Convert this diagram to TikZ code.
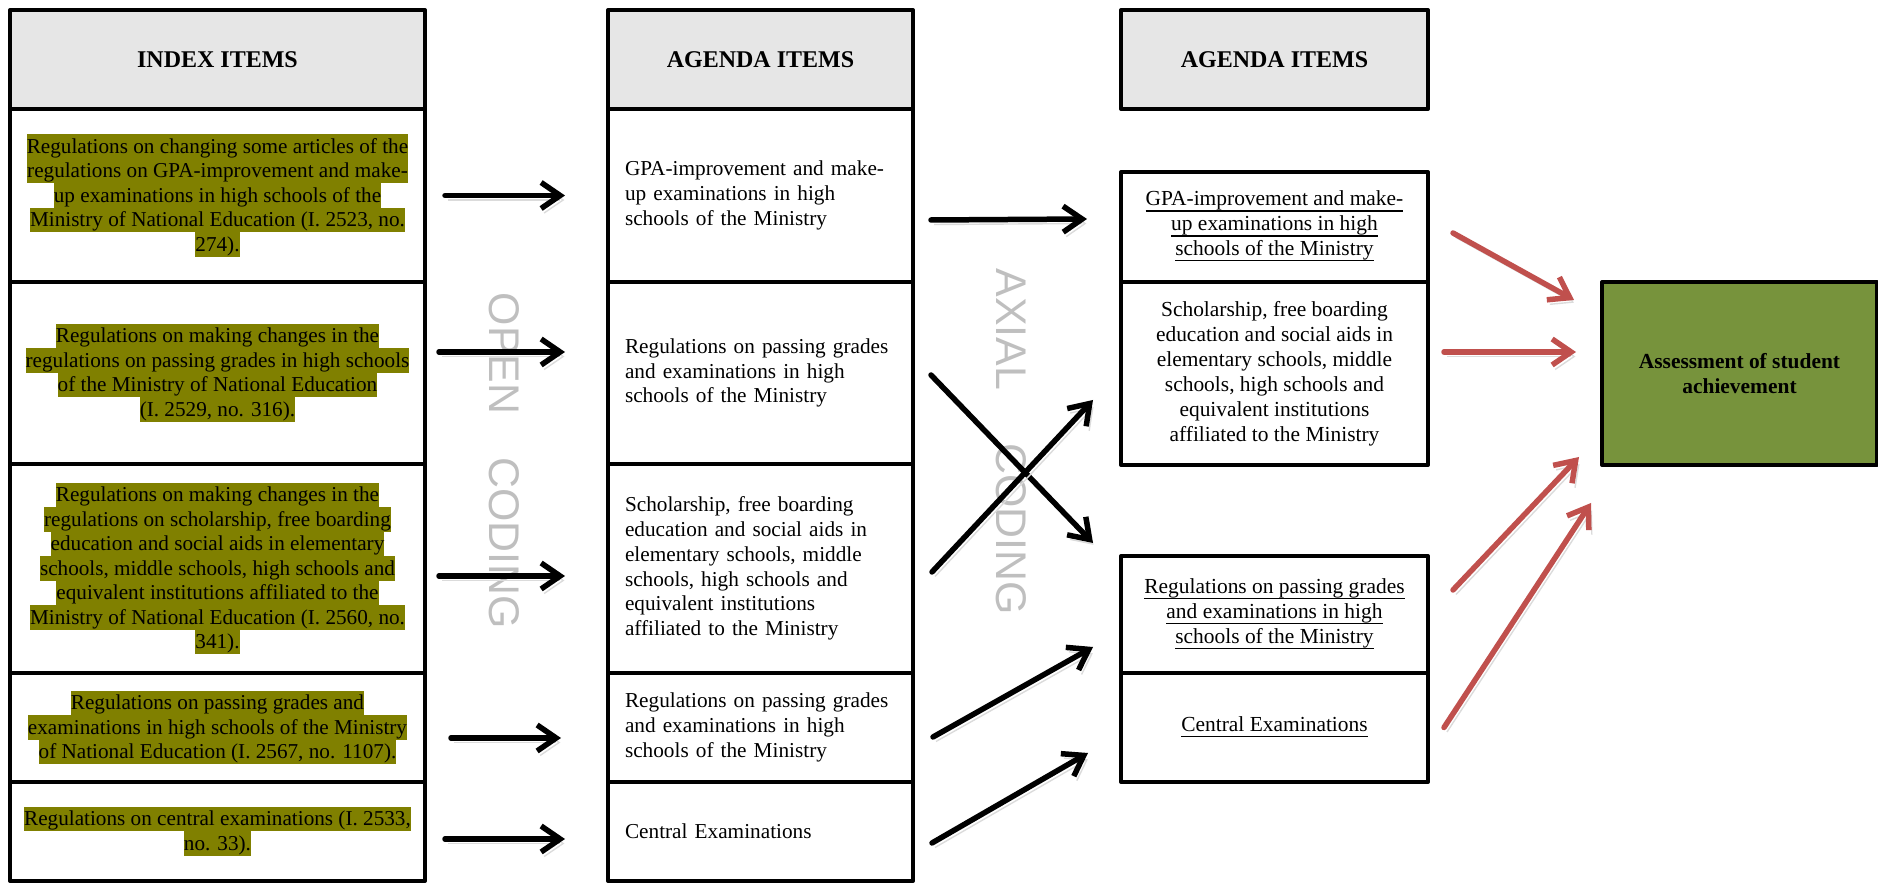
\documentclass[tikz,border=0pt]{standalone}
\usepackage{fontspec}
\setmainfont{Liberation Serif}
\newfontfamily\codingfont{Liberation Sans}
\usetikzlibrary{arrows.meta}
\definecolor{headgray}{HTML}{E6E6E6}
\definecolor{hlolive}{HTML}{808000}
\definecolor{arrowred}{HTML}{C0504D}
\definecolor{boxgreen}{HTML}{77933C}
\definecolor{codegray}{HTML}{BFBFBF}
\setlength{\fboxsep}{0pt}
\newcommand{\hlline}[1]{\colorbox{hlolive}{\rule[-1.6pt]{0pt}{6.97pt}#1}}
\newcommand{\ulline}[1]{\underline{\raisebox{0pt}[\height][0pt]{#1}}}

\begin{document}
\begin{tikzpicture}[line join=round, >={Straight Barb[length=1.9mm,width=2.6mm]}]
  \tikzstyle{cell}=[draw,line width=0.4mm,inner sep=0pt,outer sep=0pt,align=center]
  \tikzstyle{head}=[cell,fill=headgray,minimum height=0.99cm,font=\fontsize{6.83pt}{8pt}\selectfont\bfseries]
  \tikzstyle{index}=[cell,minimum width=4.15cm,font=\fontsize{6.03pt}{6.97pt}\selectfont]
  \tikzstyle{agenda}=[cell,text width=2.71cm,inner xsep=1.7mm,align=left,font=\fontsize{6.05pt}{7.05pt}\selectfont]
  \tikzstyle{coded}=[cell,minimum width=3.07cm,font=\fontsize{6.1pt}{7.1pt}\selectfont]
  \tikzstyle{coding}=[rotate=-90,anchor=west,inner sep=0pt,text=codegray,font=\codingfont\fontsize{12.2pt}{14pt}\selectfont]
  \tikzstyle{flow}=[->,line width=0.55mm,line cap=round,
    preaction={draw=black!14,->,transform canvas={xshift=0.3mm,yshift=-0.45mm}}]
  \tikzstyle{result}=[flow,draw=arrowred]
  \useasboundingbox (0,0) rectangle (18.78,8.83);

  % index items
  \node[head,minimum width=4.15cm] (I_0) at (2.175,8.235) {INDEX ITEMS};
  \node[index,minimum height=1.73cm] (I_1) at (2.175,6.875) {\hlline{Regulations on changing some articles of the}\\\hlline{regulations on GPA-improvement and make-}\\\hlline{up examinations in high schools of the}\\\hlline{Ministry of National Education (I. 2523, no.}\\\hlline{274).}};
  \node[index,minimum height=1.82cm] (I_2) at (2.175,5.10) {\hlline{Regulations on making changes in the}\\\hlline{regulations on passing grades in high schools}\\\hlline{of the Ministry of National Education}\\\hlline{(I. 2529, no. 316).}};
  \node[index,minimum height=2.09cm] (I_3) at (2.175,3.145) {\hlline{Regulations on making changes in the}\\\hlline{regulations on scholarship, free boarding}\\\hlline{education and social aids in elementary}\\\hlline{schools, middle schools, high schools and}\\\hlline{equivalent institutions affiliated to the}\\\hlline{Ministry of National Education (I. 2560, no.}\\\hlline{341).}};
  \node[index,minimum height=1.09cm] (I_4) at (2.175,1.555) {\hlline{Regulations on passing grades and}\\\hlline{examinations in high schools of the Ministry}\\\hlline{of National Education (I. 2567, no. 1107).}};
  \node[index,minimum height=0.99cm] (I_5) at (2.175,0.515) {\hlline{Regulations on central examinations (I. 2533,}\\\hlline{no. 33).}};

  % agenda items
  \node[head,minimum width=3.05cm] (A_0) at (7.605,8.235) {AGENDA ITEMS};
  \node[agenda,minimum height=1.73cm] (A_1) at (7.605,6.875) {GPA-improvement and make-\\up examinations in high\\schools of the Ministry};
  \node[agenda,minimum height=1.82cm] (A_2) at (7.605,5.10) {Regulations on passing grades\\and examinations in high\\schools of the Ministry};
  \node[agenda,minimum height=2.09cm] (A_3) at (7.605,3.145) {Scholarship, free boarding\\education and social aids in\\elementary schools, middle\\schools, high schools and\\equivalent institutions\\affiliated to the Ministry};
  \node[agenda,minimum height=1.09cm] (A_4) at (7.605,1.555) {Regulations on passing grades\\and examinations in high\\schools of the Ministry};
  \node[agenda,minimum height=0.99cm] (A_5) at (7.605,0.515) {Central Examinations};

  % coded agenda items
  \node[head,minimum width=3.07cm] (B_0) at (12.745,8.235) {AGENDA ITEMS};
  \node[coded,minimum height=1.10cm] (B_1) at (12.745,6.56) {\ulline{GPA-improvement and make-}\\\ulline{up examinations in high}\\\ulline{schools of the Ministry}};
  \node[coded,minimum height=1.83cm] (B_2) at (12.745,5.095) {Scholarship, free boarding\\education and social aids in\\elementary schools, middle\\schools, high schools and\\equivalent institutions\\affiliated to the Ministry};
  \node[coded,minimum height=1.17cm] (B_3) at (12.745,2.685) {\ulline{Regulations on passing grades}\\\ulline{and examinations in high}\\\ulline{schools of the Ministry}};
  \node[coded,minimum height=1.09cm] (B_4) at (12.745,1.555) {\ulline{Central Examinations}};

  \node[cell,fill=boxgreen,minimum width=2.75cm,minimum height=1.83cm,font=\fontsize{6.1pt}{7.1pt}\selectfont\bfseries] (R) at (17.395,5.095) {Assessment of student\\achievement};

  \node[coding] (open) at (5.04,5.91) {OPEN\hspace{4.3mm}CODING};
  \node[coding] (axial) at (10.11,6.15) {AXIAL\hspace{5.3mm}CODING};

  % open coding
  \draw[flow] ([xshift=2mm]I_1.east) -- ([xshift=-4.3mm]A_1.west);
  \draw[flow] ([xshift=1.4mm,yshift=2.1mm]I_2.east) -- ([xshift=-4.3mm,yshift=2.1mm]A_2.west);
  \draw[flow] ([xshift=1.4mm,yshift=-0.75mm]I_3.east) -- ([xshift=-4.3mm,yshift=-0.75mm]A_3.west);
  \draw[flow] ([xshift=2.6mm,yshift=-1.05mm]I_4.east) -- ([xshift=-4.7mm,yshift=-1.05mm]A_4.west);
  \draw[flow] ([xshift=2mm,yshift=-0.75mm]I_5.east) -- ([xshift=-4.3mm,yshift=-0.75mm]A_5.west);

  % axial coding
  \draw[flow] ([xshift=1.8mm,yshift=-2.45mm]A_1.east) -- ([xshift=-3.4mm,yshift=0.8mm]B_1.west);
  \draw[flow] ([xshift=1.8mm,yshift=-0.2mm]A_2.east) -- ([xshift=-2.8mm,yshift=7.15mm]B_3.west);
  \draw[flow] ([xshift=1.9mm,yshift=-0.35mm]A_3.east) -- ([xshift=-2.8mm,yshift=-2.65mm]B_2.west);
  \draw[flow] ([xshift=2mm,yshift=-0.95mm]A_4.east) -- ([xshift=-2.8mm,yshift=-3.25mm]B_3.west);
  \draw[flow] ([xshift=1.9mm,yshift=-1.15mm]A_5.east) -- ([xshift=-3.3mm,yshift=-2.55mm]B_4.west);

  \draw[result] ([xshift=2.5mm,yshift=-0.6mm]B_1.east) -- ([xshift=-2.8mm,yshift=7.35mm]R.west);
  \draw[result] ([xshift=1.6mm,yshift=2.15mm]B_2.east) -- ([xshift=-2.6mm,yshift=2.15mm]R.west);
  \draw[result] ([xshift=2.5mm,yshift=2.45mm]B_3.east) -- ([xshift=-2.3mm,yshift=-8.35mm]R.west);
  \draw[result] ([xshift=1.6mm]B_4.east) -- ([xshift=-1.1mm,yshift=-12.95mm]R.west);
\end{tikzpicture}
\end{document}
